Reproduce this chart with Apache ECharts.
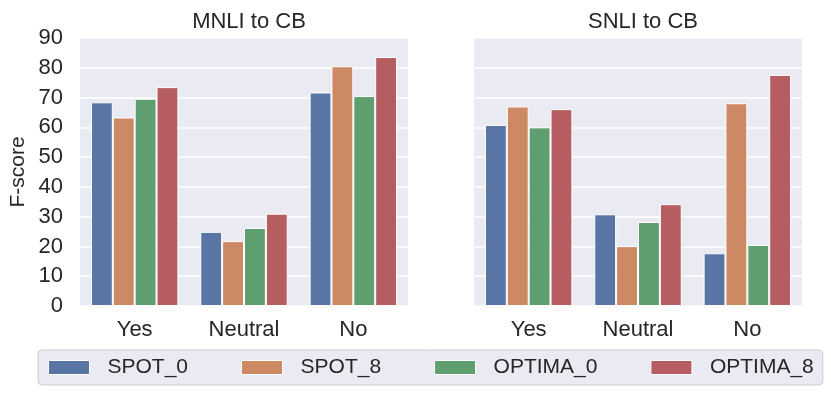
<!DOCTYPE html>
<html>
<head>
<meta charset="utf-8">
<script src="https://cdn.jsdelivr.net/npm/echarts@6/dist/echarts.min.js"></script>
<style>
  html, body { margin: 0; padding: 0; background: #fff; }
  #chart { width: 831px; height: 399px; }
</style>
</head>
<body>
<div id="chart"></div>
<script>
const categories = ['Yes', 'Neutral', 'No'];
const seriesNames = ['SPOT_0', 'SPOT_8', 'OPTIMA_0', 'OPTIMA_8'];
const colors = ['#5975a4', '#cc8963', '#5f9e6e', '#b55d60'];
const panelTitles = ['MNLI to CB', 'SNLI to CB'];

// MNLI to CB
const mnliSpot0 = [68.4, 24.9, 71.7];
const mnliSpot8 = [63.3, 21.8, 80.5];
const mnliOptima0 = [69.6, 26.2, 70.5];
const mnliOptima8 = [73.5, 31.0, 83.6];

// SNLI to CB
const snliSpot0 = [60.8, 30.8, 17.7];
const snliSpot8 = [67.0, 20.1, 68.1];
const snliOptima0 = [60.0, 28.2, 20.5];
const snliOptima8 = [66.1, 34.2, 77.6];

const panels = [
    [mnliSpot0, mnliSpot8, mnliOptima0, mnliOptima8],
    [snliSpot0, snliSpot8, snliOptima0, snliOptima8]
];

const font = 'Liberation Sans, Arial, sans-serif';
const textColor = '#262626';

const myChart = echarts.init(document.getElementById('chart'), null, { renderer: 'canvas' });

const grids = [
    { left: 80, top: 38, width: 328, height: 268, backgroundColor: '#eaeaf2', show: true, borderWidth: 0 },
    { left: 474, top: 38, width: 328, height: 268, backgroundColor: '#eaeaf2', show: true, borderWidth: 0 }
];

const xAxes = grids.map(function (g, i) {
    return {
        type: 'category',
        gridIndex: i,
        data: categories,
        axisLine: { show: false },
        axisTick: { show: false },
        axisLabel: { fontFamily: font, fontSize: 22, color: textColor, margin: 13 }
    };
});

const yAxes = grids.map(function (g, i) {
    return {
        type: 'value',
        gridIndex: i,
        min: 0,
        max: 90,
        interval: 10,
        name: i === 0 ? 'F-score' : '',
        nameLocation: 'middle',
        nameGap: 51,
        nameTextStyle: { fontFamily: font, fontSize: 21, color: textColor },
        axisLine: { show: false },
        axisTick: { show: false },
        axisLabel: { show: i === 0, fontFamily: font, fontSize: 22, color: textColor, margin: 17 },
        splitLine: { lineStyle: { color: '#ffffff', width: 1.5 } }
    };
});

const series = [];
panels.forEach(function (panel, p) {
    panel.forEach(function (values, s) {
        series.push({
            name: seriesNames[s],
            type: 'bar',
            xAxisIndex: p,
            yAxisIndex: p,
            data: values,
            barGap: '0%',
            barCategoryGap: '20%',
            itemStyle: { color: colors[s], borderColor: '#ffffff', borderWidth: 1 }
        });
    });
});

myChart.setOption({
    animation: false,
    color: colors,
    title: panelTitles.map(function (t, i) {
        return {
            text: t,
            left: grids[i].left + grids[i].width / 2,
            textAlign: 'center',
            top: 6,
            textStyle: { fontFamily: font, fontSize: 22, fontWeight: 'normal', color: textColor }
        };
    }),
    legend: {
        data: seriesNames,
        left: 38,
        top: 350,
        itemWidth: 41,
        itemHeight: 14,
        itemGap: 53,
        padding: [7, 9, 7, 10],
        backgroundColor: '#eaeaf2',
        borderColor: '#cccccc',
        borderWidth: 1,
        borderRadius: 4,
        icon: 'rect',
        itemStyle: { borderColor: '#ffffff', borderWidth: 1 },
        textStyle: { fontFamily: font, fontSize: 21, color: textColor, padding: [0, 0, 0, 13] }
    },
    grid: grids,
    xAxis: xAxes,
    yAxis: yAxes,
    series: series
});

window.addEventListener('resize', function () {
    myChart.resize();
});
</script>
</body>
</html>
